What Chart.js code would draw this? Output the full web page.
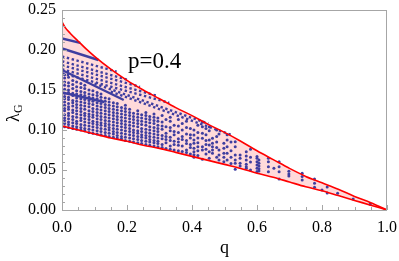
<!DOCTYPE html>
<html>
<head>
<meta charset="utf-8">
<script src="https://cdn.jsdelivr.net/npm/chart.js@4"></script>
<style>
  html, body { margin: 0; padding: 0; background: #fff; }
  #wrap { width: 399px; height: 261px; }
</style>
</head>
<body>
<div id="wrap"><canvas id="c" width="399" height="261"></canvas></div>
<script>
// boundary curves
const qCurve = [0, 0.01, 0.025, 0.05, 0.075, 0.1, 0.15, 0.2, 0.25, 0.3, 0.35, 0.4, 0.45, 0.5, 0.55, 0.6, 0.65, 0.7, 0.75, 0.8, 0.85, 0.9, 0.95, 1]
const upperCurve = [0.235, 0.228, 0.221, 0.211, 0.201, 0.192, 0.176, 0.162, 0.150, 0.139, 0.128, 0.118, 0.107, 0.097, 0.086, 0.074, 0.063, 0.052, 0.042, 0.034, 0.026, 0.017, 0.009, 0]
const lowerCurve = [0.105, 0.104, 0.1025, 0.100, 0.0975, 0.095, 0.090, 0.086, 0.081, 0.077, 0.072, 0.067, 0.062, 0.057, 0.052, 0.046, 0.041, 0.035, 0.029, 0.024, 0.018, 0.012, 0.006, 0]

// straight runs of points starting at q=0: [q0, v0, q1, v1]
const solidRuns = [
  [0, 0.2145, 0.056, 0.209],
  [0, 0.202, 0.112, 0.1875],
  [0, 0.175, 0.19, 0.1375],
  [0, 0.147, 0.13, 0.135]
]
const dottedRuns = [
  [0, 0.192, 0.168, 0.173],
  [0, 0.186, 0.2, 0.163],
  [0, 0.181, 0.24, 0.154],
  [0, 0.176, 0.29, 0.143],
  [0, 0.171, 0.33, 0.134],
  [0.1, 0.158, 0.45, 0.108],
  [0.15, 0.148, 0.52, 0.094]
]

// scattered points, grouped by column q
const colQ = [0.008, 0.02, 0.033, 0.045, 0.058, 0.07, 0.083, 0.095, 0.108, 0.12, 0.133, 0.145, 0.158, 0.17, 0.183, 0.195, 0.208, 0.22, 0.233, 0.245, 0.258, 0.27, 0.283, 0.295, 0.308, 0.32, 0.333, 0.345, 0.358, 0.37, 0.383, 0.395,
  0.406, 0.418, 0.432, 0.443, 0.453, 0.463, 0.476, 0.483, 0.498, 0.508, 0.52, 0.533, 0.548, 0.567, 0.58, 0.6, 0.606, 0.635, 0.652, 0.668, 0.698, 0.739, 0.777, 0.8, 0.816, 0.848, 0.896, 0.948, 1.0]
const colV = [
  [0.104, 0.108, 0.112, 0.115, 0.119, 0.124, 0.127, 0.131, 0.135, 0.139, 0.142, 0.146, 0.151, 0.156, 0.160, 0.165, 0.169],
  [0.103, 0.107, 0.110, 0.114, 0.118, 0.121, 0.126, 0.129, 0.133, 0.138, 0.141, 0.147, 0.150, 0.155, 0.159, 0.166],
  [0.102, 0.105, 0.109, 0.113, 0.117, 0.122, 0.125, 0.130, 0.134, 0.137, 0.143, 0.146, 0.152, 0.157, 0.162],
  [0.101, 0.104, 0.108, 0.111, 0.116, 0.120, 0.124, 0.128, 0.132, 0.136, 0.140, 0.145, 0.149, 0.154, 0.160],
  [0.100, 0.103, 0.107, 0.112, 0.115, 0.119, 0.123, 0.127, 0.131, 0.135, 0.139, 0.144, 0.148, 0.153, 0.158],
  [0.099, 0.102, 0.106, 0.110, 0.114, 0.118, 0.121, 0.126, 0.130, 0.134, 0.138, 0.143, 0.147, 0.152, 0.156],
  [0.097, 0.101, 0.105, 0.109, 0.113, 0.117, 0.120, 0.124, 0.129, 0.133, 0.137, 0.141, 0.145, 0.150],
  [0.096, 0.100, 0.104, 0.108, 0.111, 0.116, 0.119, 0.123, 0.127, 0.132, 0.136, 0.140, 0.144, 0.149],
  [0.095, 0.099, 0.103, 0.107, 0.110, 0.114, 0.118, 0.122, 0.126, 0.130, 0.134, 0.139, 0.143, 0.147],
  [0.094, 0.098, 0.102, 0.106, 0.109, 0.113, 0.117, 0.121, 0.125, 0.129, 0.133, 0.137, 0.141, 0.145],
  [0.093, 0.097, 0.101, 0.105, 0.108, 0.112, 0.116, 0.120, 0.124, 0.128, 0.132, 0.136, 0.140],
  [0.092, 0.096, 0.100, 0.103, 0.107, 0.111, 0.115, 0.119, 0.123, 0.127, 0.131, 0.135, 0.139],
  [0.091, 0.095, 0.098, 0.102, 0.106, 0.110, 0.114, 0.118, 0.122, 0.126, 0.130, 0.134],
  [0.090, 0.093, 0.097, 0.101, 0.105, 0.109, 0.113, 0.117, 0.121, 0.125, 0.129, 0.133],
  [0.089, 0.092, 0.096, 0.100, 0.104, 0.108, 0.112, 0.116, 0.120, 0.124, 0.128],
  [0.087, 0.091, 0.095, 0.099, 0.103, 0.107, 0.111, 0.115, 0.119, 0.123, 0.127, 0.131],
  [0.086, 0.090, 0.094, 0.098, 0.102, 0.106, 0.110, 0.114, 0.118, 0.122, 0.126],
  [0.085, 0.089, 0.093, 0.097, 0.100, 0.105, 0.109, 0.113, 0.117, 0.121],
  [0.084, 0.088, 0.092, 0.096, 0.099, 0.104, 0.108, 0.112, 0.116, 0.120, 0.124],
  [0.083, 0.087, 0.091, 0.094, 0.098, 0.102, 0.107, 0.111, 0.115, 0.119],
  [0.082, 0.086, 0.090, 0.093, 0.097, 0.101, 0.106, 0.110, 0.114, 0.118, 0.122],
  [0.081, 0.085, 0.088, 0.092, 0.096, 0.100, 0.104, 0.109, 0.113, 0.117],
  [0.080, 0.084, 0.087, 0.091, 0.095, 0.099, 0.103, 0.108, 0.112, 0.116, 0.120],
  [0.079, 0.083, 0.086, 0.090, 0.094, 0.098, 0.102, 0.106, 0.111, 0.115],
  [0.078, 0.082, 0.089, 0.093, 0.101, 0.105, 0.110, 0.118],
  [0.077, 0.084, 0.088, 0.092, 0.096, 0.104, 0.113],
  [0.076, 0.080, 0.087, 0.091, 0.099, 0.103, 0.111, 0.116],
  [0.075, 0.082, 0.086, 0.094, 0.098, 0.106],
  [0.074, 0.081, 0.085, 0.089, 0.097, 0.105, 0.113],
  [0.073, 0.080, 0.088, 0.092, 0.100, 0.108],
  [0.072, 0.075, 0.083, 0.087, 0.095, 0.103, 0.111],
  [0.070, 0.078, 0.082, 0.090, 0.094, 0.102],
  [0.100, 0.0937, 0.0875, 0.0833, 0.0771, 0.0729, 0.069, 0.066],
  [0.106, 0.097, 0.090, 0.084, 0.079, 0.074, 0.068],
  [0.110, 0.1042, 0.0958, 0.0896, 0.0792, 0.075, 0.0633],
  [0.102, 0.094, 0.087, 0.082, 0.076, 0.070],
  [0.104, 0.099, 0.0875, 0.0813, 0.0729, 0.0646],
  [0.0896, 0.0833, 0.0792, 0.075, 0.0708],
  [0.100, 0.092, 0.085, 0.078, 0.066],
  [0.095, 0.075, 0.0688, 0.0625],
  [0.0833, 0.0771, 0.0708, 0.0658, 0.0604],
  [0.094, 0.0875, 0.0792, 0.0708, 0.0625],
  [0.085, 0.074, 0.066, 0.058],
  [0.0854, 0.0792, 0.0688, 0.0625, 0.0583, 0.0508],
  [0.0688, 0.0646, 0.0583, 0.055],
  [0.0729, 0.0675, 0.0625, 0.0571, 0.0542, 0.0521],
  [0.076, 0.066, 0.060, 0.050],
  [0.067, 0.0646, 0.0604, 0.0563, 0.0521, 0.048],
  [0.0625, 0.0583, 0.055, 0.0517, 0.0488],
  [0.0646, 0.0604, 0.0542, 0.0479],
  [0.0521],
  [0.0604, 0.0542, 0.0479, 0.0388],
  [0.0483, 0.045, 0.0425],
  [0.046, 0.042, 0.0375],
  [0.0388, 0.0333, 0.0283],
  [0.025],
  [0.0288, 0.0213],
  [0.0208],
  [0.0137],
  [0.0071],
  [0]
]

// axis ticks
const xTicks = [0, 0.2, 0.4, 0.6, 0.8, 1.0]
const xMinor = [0.05, 0.1, 0.15, 0.25, 0.3, 0.35, 0.45, 0.5, 0.55, 0.65, 0.7, 0.75, 0.85, 0.9, 0.95]
const yTicks = [0, 0.05, 0.1, 0.15, 0.2, 0.25]
const yMinor = [0.01, 0.02, 0.03, 0.04, 0.06, 0.07, 0.08, 0.09, 0.11, 0.12, 0.13, 0.14, 0.16, 0.17, 0.18, 0.19, 0.21, 0.22, 0.23, 0.24]

const label = "p=0.4"
const dotColor = "rgb(62,62,160)"
const serif = "\"Times New Roman\", \"Liberation Serif\", Tinos, serif"

//build datasets
const upperPts = qCurve.map((q, i) => ({ x: q, y: upperCurve[i] }))
const lowerPts = qCurve.map((q, i) => ({ x: q, y: lowerCurve[i] }))
const scatterPts = []
for (let i = 0; i < colQ.length; i++) {
  for (const v of colV[i]) scatterPts.push({ x: colQ[i], y: v })
}

const datasets = [{
  data: upperPts, showLine: true, borderColor: "rgb(255,0,0)", borderWidth: 1.6,
  pointRadius: 0, fill: "+1", backgroundColor: "rgb(255,218,218)", cubicInterpolationMode: "monotone"
}, {
  data: lowerPts, showLine: true, borderColor: "rgb(255,0,0)", borderWidth: 1.6,
  pointRadius: 0, fill: false, cubicInterpolationMode: "monotone"
}]
for (const r of solidRuns) {
  datasets.push({
    data: [{ x: r[0], y: r[1] }, { x: r[2], y: r[3] }], showLine: true,
    borderColor: dotColor, borderWidth: 2.4, pointRadius: 0, fill: false
  })
}
for (const r of dottedRuns) {
  datasets.push({
    data: [{ x: r[0], y: r[1] }, { x: r[2], y: r[3] }], showLine: true,
    borderColor: dotColor, borderWidth: 2.4, borderDash: [2.4, 2.6], pointRadius: 0, fill: false
  })
}
datasets.push({
  data: scatterPts, pointRadius: 1.5, pointBorderWidth: 0,
  backgroundColor: dotColor, borderColor: dotColor
})

// frame, inward ticks and the text labels
const decor = {
  id: "decor",
  afterDraw(chart) {
    const ctx = chart.ctx
    const a = chart.chartArea
    const x = chart.scales.x, y = chart.scales.y
    ctx.save()
    ctx.strokeStyle = "#a6a6a6"
    ctx.lineWidth = 1
    ctx.strokeRect(Math.round(a.left) + 0.5, Math.round(a.top) + 0.5, Math.round(a.right - a.left) - 1, Math.round(a.bottom - a.top))
    ctx.beginPath()
    for (const v of xTicks) { const p = Math.round(x.getPixelForValue(v)) + 0.5; ctx.moveTo(p, a.bottom); ctx.lineTo(p, a.bottom - 5) }
    for (const v of xMinor) { const p = Math.round(x.getPixelForValue(v)) + 0.5; ctx.moveTo(p, a.bottom); ctx.lineTo(p, a.bottom - 3) }
    for (const v of yTicks) { const p = Math.round(y.getPixelForValue(v)) + 0.5; ctx.moveTo(a.left, p); ctx.lineTo(a.left + 5, p) }
    for (const v of yMinor) { const p = Math.round(y.getPixelForValue(v)) + 0.5; ctx.moveTo(a.left, p); ctx.lineTo(a.left + 3, p) }
    ctx.stroke()

    ctx.fillStyle = "#000"
    ctx.font = "23px " + serif
    ctx.textBaseline = "alphabetic"
    ctx.textAlign = "left"
    ctx.fillText(label, 128, 68)

    // x title
    ctx.font = "18px " + serif
    ctx.textAlign = "center"
    ctx.fillText("q", (a.left + a.right) / 2, 253)

    // y title, rotated, with subscript
    ctx.translate(19, 112)
    ctx.rotate(-Math.PI / 2)
    ctx.textAlign = "left"
    ctx.font = "18px " + serif
    ctx.fillText("λ", -10, 0)
    ctx.font = "12px " + serif
    ctx.fillText("G", -1, 3)
    ctx.restore()
  }
}

new Chart(document.getElementById("c"), {
  type: "scatter",
  data: { datasets: datasets },
  options: {
    responsive: false,
    animation: false,
    layout: { padding: { left: 0, right: 12, top: 10, bottom: 0 } },
    plugins: { legend: { display: false }, tooltip: { enabled: false }, filler: { drawTime: "beforeDatasetsDraw" } },
    scales: {
      x: {
        type: "linear", min: 0, max: 1,
        afterFit(s) { s.height = 51 },
        afterBuildTicks(s) { s.ticks = xTicks.map(v => ({ value: v })) },
        grid: { display: false, drawTicks: true, tickLength: 8 },
        border: { display: false },
        ticks: { padding: 0, color: "#000", font: { family: serif, size: 16 }, callback: v => v.toFixed(1), maxRotation: 0 }
      },
      y: {
        type: "linear", min: 0, max: 0.25,
        afterFit(s) { s.width = 62 },
        afterBuildTicks(s) { s.ticks = yTicks.map(v => ({ value: v })) },
        grid: { display: false, drawTicks: true, tickLength: 6 },
        border: { display: false },
        ticks: { padding: 0, color: "#000", font: { family: serif, size: 16 }, callback: v => v.toFixed(2) }
      }
    }
  },
  plugins: [decor]
})
</script>
</body>
</html>
